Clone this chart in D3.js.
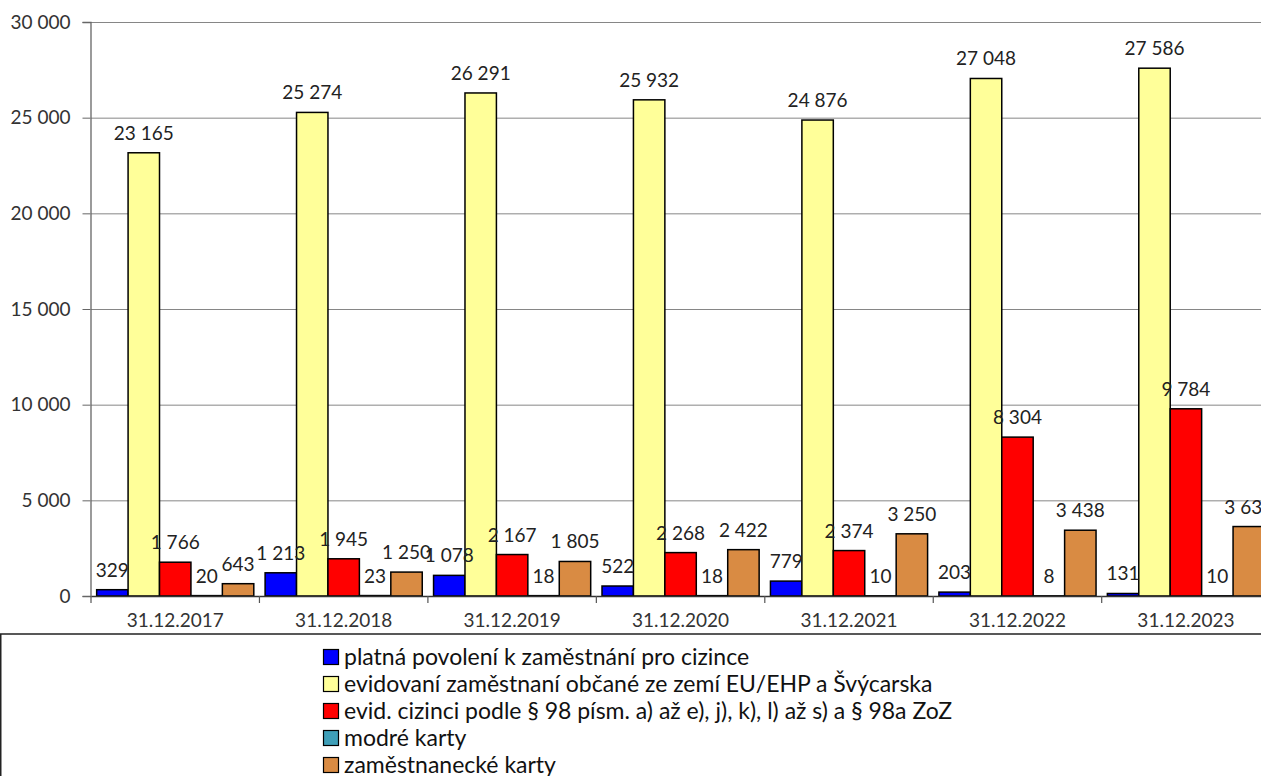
<!DOCTYPE html>
<html>
<head>
<meta charset="utf-8">
<script src="https://cdn.jsdelivr.net/npm/d3@7"></script>
<style>
  body { margin: 0; background: #fff; }
  svg { display: block; font-family: Lato, "Open Sans", sans-serif; }
</style>
</head>
<body>
<svg id="chart" width="1261" height="776"></svg>
<script>
// data
const categories = ['31.12.2017', '31.12.2018', '31.12.2019', '31.12.2020', '31.12.2021', '31.12.2022', '31.12.2023'];
const seriesNames = [
  'platná povolení k zaměstnání pro cizince',
  'evidovaní zaměstnaní občané ze zemí EU/EHP a Švýcarska',
  'evid. cizinci podle § 98 písm. a) až e), j), k), l) až s) a § 98a ZoZ',
  'modré karty',
  'zaměstnanecké karty'
];
const seriesColors = ['#0000ff', '#ffff99', '#ff0000', '#3f9fb8', '#d98b43'];
const povoleni = [329, 1213, 1078, 522, 779, 203, 131];
const evidEU = [23165, 25274, 26291, 25932, 24876, 27048, 27586];
const evidCizinci = [1766, 1945, 2167, 2268, 2374, 8304, 9784];
const modreKarty = [20, 23, 18, 18, 10, 8, 10];
const zamKarty = [643, 1250, 1805, 2422, 3250, 3438, 3630];
const yTicks = [0, 5000, 10000, 15000, 20000, 25000, 30000];

const series = [povoleni, evidEU, evidCizinci, modreKarty, zamKarty];

const fmt = d3.formatLocale({ decimal: ',', thousands: ' ', grouping: [3], currency: ['', ''] }).format(',d');

const svg = d3.select('#chart');

const plotLeft = 91, plotTop = 22, plotBottom = 596;
const groupW = 168.45;

const x = d3.scaleBand()
  .domain(categories)
  .range([plotLeft, plotLeft + groupW * categories.length])
  .padding(0);

const xs = d3.scaleBand()
  .domain(d3.range(series.length))
  .range([0, x.bandwidth()])
  .paddingInner(0)
  .paddingOuter(0.18);

const y = d3.scaleLinear()
  .domain([0, 30000])
  .range([plotBottom, plotTop]);

// gridlines
svg.append('g')
  .selectAll('line')
  .data(yTicks.slice(1))
  .enter()
  .append('line')
  .attr('x1', plotLeft)
  .attr('x2', 1261)
  .attr('y1', d => y(d) + 0.5)
  .attr('y2', d => y(d) + 0.5)
  .attr('stroke', '#868686')
  .attr('stroke-width', 1);

// y axis
const yAxis = d3.axisLeft(y)
  .tickValues(yTicks)
  .tickSize(8)
  .tickPadding(12)
  .tickFormat(fmt);

const gY = svg.append('g')
  .attr('transform', `translate(${plotLeft - 0.5},0)`)
  .call(yAxis);
gY.select('.domain').attr('stroke', '#666').attr('stroke-width', 1.3);
gY.selectAll('.tick line').attr('stroke', '#666');
gY.selectAll('.tick text')
  .attr('font-size', 19)
  .attr('fill', '#333')
  .attr('font-family', 'Lato, sans-serif');

// bars
const groups = svg.append('g')
  .selectAll('g')
  .data(categories)
  .enter()
  .append('g')
  .attr('transform', d => `translate(${x(d)},0)`);

groups.selectAll('rect')
  .data((d, i) => series.map((s, k) => ({ k: k, v: s[i] })))
  .enter()
  .append('rect')
  .attr('x', d => xs(d.k))
  .attr('width', xs.bandwidth())
  .attr('y', d => y(d.v))
  .attr('height', d => plotBottom - y(d.v))
  .attr('fill', d => seriesColors[d.k])
  .attr('stroke', '#000')
  .attr('stroke-width', 1.5);

// x axis
const xAxis = d3.axisBottom(x)
  .tickSize(0)
  .tickPadding(18);

const gX = svg.append('g')
  .attr('transform', `translate(0,${plotBottom})`)
  .call(xAxis);
gX.select('.domain').attr('stroke', '#333').attr('stroke-width', 1.5);
gX.selectAll('.tick text')
  .attr('font-size', 19)
  .attr('fill', '#333')
  .attr('font-family', 'Lato, sans-serif');

// category separators below the axis
svg.append('g')
  .selectAll('line')
  .data(categories)
  .enter()
  .append('line')
  .attr('x1', d => x(d))
  .attr('x2', d => x(d))
  .attr('y1', plotBottom)
  .attr('y2', plotBottom + 7)
  .attr('stroke', '#555')
  .attr('stroke-width', 1.2);

// value labels
groups.selectAll('text.val')
  .data((d, i) => series.map((s, k) => ({ k: k, v: s[i] })))
  .enter()
  .append('text')
  .attr('class', 'val')
  .attr('x', d => xs(d.k) + xs.bandwidth() / 2)
  .attr('y', d => y(d.v) - 13)
  .attr('text-anchor', 'middle')
  .attr('font-size', 19)
  .attr('fill', '#222')
  .text(d => fmt(d.v));

// legend
const legendTop = 634;
const legend = svg.append('g');
legend.append('rect')
  .attr('x', 0.75)
  .attr('y', legendTop)
  .attr('width', 1300)
  .attr('height', 200)
  .attr('fill', '#fff')
  .attr('stroke', '#222')
  .attr('stroke-width', 1.5);

const items = legend.selectAll('g.item')
  .data(seriesNames)
  .enter()
  .append('g')
  .attr('class', 'item')
  .attr('transform', (d, i) => `translate(323,${legendTop + 23 + i * 27})`);

items.append('rect')
  .attr('x', 0.5)
  .attr('y', -7.5)
  .attr('width', 15)
  .attr('height', 15)
  .attr('fill', (d, i) => seriesColors[i])
  .attr('stroke', '#000')
  .attr('stroke-width', 1.2);

items.append('text')
  .attr('x', 21)
  .attr('y', 8)
  .attr('font-size', 23)
  .attr('fill', '#111')
  .text(d => d);
</script>
</body>
</html>
